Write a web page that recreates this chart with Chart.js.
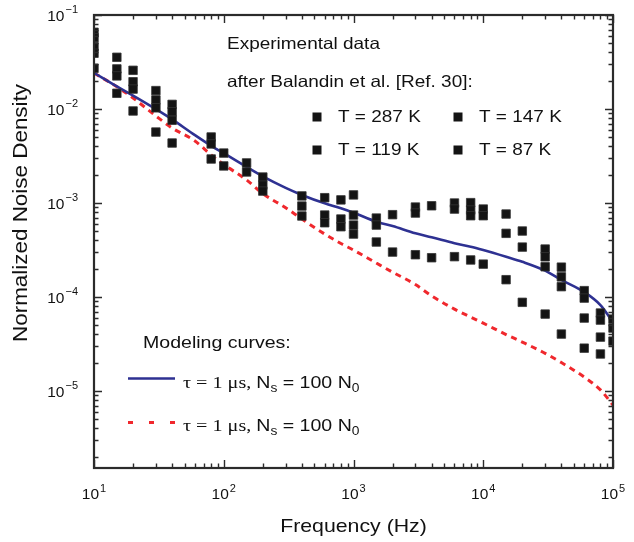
<!DOCTYPE html>
<html>
<head>
<meta charset="utf-8">
<title>Normalized noise density vs frequency</title>
<script src="https://cdn.jsdelivr.net/npm/chart.js@4.4.0/dist/chart.umd.min.js"></script>
<style>
  html, body { margin: 0; padding: 0; background: #fff; }
  #wrap { position: relative; width: 634px; height: 542px; }
</style>
</head>
<body>
<div id="wrap"><canvas id="noiseChart"></canvas></div>
<script>
// measured spectra (all temperatures share the same square marker)
const measFreq = [
    10, 10, 10, 10, 10,
    15, 15, 15, 15,
    20, 20, 20, 20,
    30, 30, 30, 30,
    40, 40, 40, 40,
    80, 80, 80,
    100, 100,
    150, 150,
    200, 200, 200,
    400, 400, 400,
    600, 600, 600,
    800, 800, 800,
    1000, 1000, 1000, 1000,
    1500, 1500, 1500,
    2000, 2000,
    3000, 3000, 3000,
    4000, 4000,
    6000, 6000, 6000,
    8000, 8000, 8000, 8000,
    10000, 10000, 10000,
    15000, 15000, 15000,
    20000, 20000, 20000,
    30000, 30000, 30000, 30000,
    40000, 40000, 40000, 40000,
    60000, 60000, 60000, 60000,
    80000, 80000, 80000, 80000,
    100000, 100000, 100000
];
const measNoise = [
    6.55e-2, 5.74e-2, 4.60e-2, 3.92e-2, 2.71e-2,
    3.55e-2, 2.67e-2, 2.25e-2, 1.47e-2,
    2.58e-2, 1.95e-2, 1.63e-2, 9.53e-3,
    1.57e-2, 1.25e-2, 1.03e-2, 5.69e-3,
    1.12e-2, 9.35e-3, 7.59e-3, 4.35e-3,
    5.04e-3, 4.25e-3, 2.94e-3,
    3.40e-3, 2.48e-3,
    2.67e-3, 2.14e-3,
    1.89e-3, 1.55e-3, 1.34e-3,
    1.19e-3, 9.29e-4, 7.28e-4,
    1.14e-3, 7.45e-4, 6.17e-4,
    1.08e-3, 6.76e-4, 5.60e-4,
    1.22e-3, 7.45e-4, 5.83e-4, 4.68e-4,
    6.92e-4, 5.83e-4, 3.85e-4,
    7.52e-4, 3.01e-4,
    9.06e-4, 7.83e-4, 2.82e-4,
    9.35e-4, 2.62e-4,
    1.00e-3, 8.63e-4, 2.69e-4,
    1.01e-3, 8.43e-4, 7.33e-4, 2.48e-4,
    8.63e-4, 7.33e-4, 2.24e-4,
    7.64e-4, 4.76e-4, 1.53e-4,
    5.04e-4, 3.40e-4, 8.79e-5,
    3.24e-4, 2.68e-4, 2.10e-4, 6.59e-5,
    2.08e-4, 1.64e-4, 1.29e-4, 4.04e-5,
    1.17e-4, 9.75e-5, 5.98e-5, 2.86e-5,
    6.76e-5, 5.69e-5, 3.75e-5, 2.48e-5,
    5.83e-5, 4.68e-5, 3.40e-5
];

// model curves
const modelFreq = [10, 15, 20, 30, 40, 60, 80, 100, 150, 200, 300, 400, 600, 800, 1000,
    1500, 2000, 3000, 4000, 6000, 8000, 10000, 15000, 20000, 30000, 40000, 60000, 80000, 100000];
const modelSolid = [2.43e-2, 1.74e-2, 1.39e-2, 9.97e-3, 7.76e-3, 5.27e-3, 4.06e-3, 3.39e-3, 2.42e-3,
    1.92e-3, 1.45e-3, 1.22e-3, 9.93e-4, 8.79e-4, 7.89e-4, 6.33e-4, 5.69e-4, 4.76e-4, 4.32e-4,
    3.73e-4, 3.43e-4, 3.16e-4, 2.68e-4, 2.37e-4, 1.91e-4, 1.52e-4, 1.13e-4, 8.22e-5, 5.42e-5];
const modelDashed = [2.41e-2, 1.73e-2, 1.31e-2, 8.43e-3, 6.28e-3, 4.57e-3, 3.24e-3, 2.57e-3, 1.76e-3,
    1.26e-3, 8.91e-4, 6.76e-4, 4.68e-4, 3.71e-4, 3.16e-4, 2.30e-4, 1.84e-4, 1.36e-4, 1.03e-4,
    7.44e-5, 6.12e-5, 5.28e-5, 3.99e-5, 3.32e-5, 2.52e-5, 2.01e-5, 1.41e-5, 1.03e-5, 7.10e-6];

const tempLabels = ['T = 287 K', 'T = 147 K', 'T = 119 K', 'T = 87 K'];
const xMajorTicks = [10, 100, 1000, 10000, 100000];
const yMajorTicks = [1e-1, 1e-2, 1e-3, 1e-4, 1e-5];

const INK = '#111111';
const AXIS = '#2b2b2b';
const BLUE = '#2e3192';
const RED = '#f0282d';
const SANS = '"Liberation Sans", Arial, Helvetica, sans-serif';
const SERIF = '"Liberation Serif", "Times New Roman", serif';
const STRETCH = 1.15;

// text with a slightly wide set, like the original figure lettering
function wideText(ctx, txt, x, y, font, align) {
    ctx.save();
    ctx.font = font;
    ctx.translate(x, y);
    ctx.scale(STRETCH, 1);
    ctx.textAlign = align || 'left';
    ctx.textBaseline = 'middle';
    ctx.fillText(txt, 0, 0);
    const w = ctx.measureText(txt).width * STRETCH;
    ctx.restore();
    return w;
}

// "tau = 1 us, N_s = 100 N_0" in mixed serif / sans with subscripts
function modelLabel(ctx, x, y) {
    const parts = [
        { t: '\u03c4 = 1 \u03bcs, ', f: '17.5px ' + SERIF, dy: 0 },
        { t: 'N', f: '17px ' + SANS, dy: 0 },
        { t: 's', f: '12px ' + SANS, dy: 6 },
        { t: ' = 100 N', f: '17px ' + SANS, dy: 0 },
        { t: '0', f: '12px ' + SANS, dy: 6 }
    ];
    let cx = x;
    parts.forEach(p => { cx += wideText(ctx, p.t, cx, y + p.dy, p.f); });
}

function powerLabel(ctx, exp, x, y, side) {
    const expTxt = exp < 0 ? '\u2212' + Math.abs(exp) : String(exp);
    ctx.save();
    ctx.fillStyle = INK;
    ctx.textBaseline = 'middle';
    ctx.textAlign = 'left';
    ctx.font = '15.5px ' + SANS;
    const wb = ctx.measureText('10').width;
    ctx.font = '11px ' + SANS;
    const we = ctx.measureText(expTxt).width;
    let left;
    if (side === 'bottom') {
        left = x - (wb + we + 1) / 2;
        ctx.font = '15.5px ' + SANS;
        ctx.fillText('10', left, y + 1);
        ctx.font = '11px ' + SANS;
        ctx.fillText(expTxt, left + wb + 1, y - 5);
    } else {
        left = x - (wb + we + 1);
        ctx.font = '15.5px ' + SANS;
        ctx.fillText('10', left, y + 2);
        ctx.font = '11px ' + SANS;
        ctx.fillText(expTxt, left + wb + 1, y - 5);
    }
    ctx.restore();
}

const figurePlugin = {
    id: 'figure',
    afterDraw(chart) {
        const ctx = chart.ctx;
        const area = chart.chartArea;
        const xs = chart.scales.x;
        const ys = chart.scales.y;

        // frame
        ctx.save();
        ctx.strokeStyle = AXIS;
        ctx.lineWidth = 2.2;
        ctx.strokeRect(area.left, area.top, area.right - area.left, area.bottom - area.top);

        // inward log ticks on all four sides
        ctx.lineWidth = 1.4;
        ctx.beginPath();
        for (let d = 1; d <= 5; d++) {
            for (let k = 1; k <= 9; k++) {
                const v = k * Math.pow(10, d);
                if (v < xs.min || v > xs.max) continue;
                const px = Math.round(xs.getPixelForValue(v)) + 0.5;
                const len = k === 1 ? 8 : 4.5;
                ctx.moveTo(px, area.bottom); ctx.lineTo(px, area.bottom - len);
                ctx.moveTo(px, area.top); ctx.lineTo(px, area.top + len);
            }
        }
        for (let d = -6; d <= -1; d++) {
            for (let k = 1; k <= 9; k++) {
                const v = k * Math.pow(10, d);
                if (v < ys.min || v > ys.max * 1.0001) continue;
                const py = Math.round(ys.getPixelForValue(v)) + 0.5;
                const len = k === 1 ? 8 : 4.5;
                ctx.moveTo(area.left, py); ctx.lineTo(area.left + len, py);
                ctx.moveTo(area.right, py); ctx.lineTo(area.right - len, py);
            }
        }
        ctx.stroke();
        ctx.restore();

        // tick labels
        xMajorTicks.forEach(v => powerLabel(ctx, Math.round(Math.log10(v)), xs.getPixelForValue(v), 494, 'bottom'));
        yMajorTicks.forEach(v => powerLabel(ctx, Math.round(Math.log10(v)), 78, ys.getPixelForValue(v), 'left'));

        ctx.save();
        ctx.fillStyle = INK;

        // axis titles
        wideText(ctx, 'Frequency (Hz)', (area.left + area.right) / 2, 527, '18.5px ' + SANS, 'center');
        ctx.save();
        ctx.translate(22, 213);
        ctx.rotate(-Math.PI / 2);
        wideText(ctx, 'Normalized Noise Density', 0, 0, '19.5px ' + SANS, 'center');
        ctx.restore();

        // experimental data key
        wideText(ctx, 'Experimental data', 227, 44, '16.5px ' + SANS);
        wideText(ctx, 'after Balandin et al. [Ref. 30]:', 227, 82, '16.5px ' + SANS);
        const keyX = [317, 458];
        const keyY = [117, 150];
        tempLabels.forEach((lab, i) => {
            const cx = keyX[i % 2];
            const cy = keyY[Math.floor(i / 2)];
            ctx.fillStyle = '#141414';
            ctx.fillRect(cx - 4.5, cy - 4.5, 9, 9);
            ctx.fillStyle = INK;
            wideText(ctx, lab, cx + 21, cy, '16.5px ' + SANS);
        });

        // model curve key
        wideText(ctx, 'Modeling curves:', 143, 343, '17px ' + SANS);
        ctx.lineWidth = 2.6;
        ctx.strokeStyle = BLUE;
        ctx.beginPath();
        ctx.moveTo(128, 378.5); ctx.lineTo(175, 378.5);
        ctx.stroke();
        ctx.strokeStyle = RED;
        ctx.lineWidth = 3;
        ctx.setLineDash([5, 16]);
        ctx.beginPath();
        ctx.moveTo(128, 422.5); ctx.lineTo(175, 422.5);
        ctx.stroke();
        ctx.setLineDash([]);
        modelLabel(ctx, 183, 383);
        modelLabel(ctx, 183, 426);
        ctx.restore();
    }
};

const measured = measFreq.map((f, i) => ({ x: f, y: measNoise[i] }));
const solidPts = modelFreq.map((f, i) => ({ x: f, y: modelSolid[i] }));
const dashedPts = modelFreq.map((f, i) => ({ x: f, y: modelDashed[i] }));

new Chart(document.getElementById('noiseChart'), {
    type: 'scatter',
    data: {
        datasets: [
            {
                label: 'Experimental data',
                data: measured,
                pointStyle: 'rect',
                pointRadius: 6,
                backgroundColor: '#141414',
                borderColor: '#333333',
                borderWidth: 0.8,
                order: 0
            },
            {
                label: 'tau = 1 us, Ns = 100 N0 (solid)',
                type: 'line',
                data: solidPts,
                borderColor: BLUE,
                borderWidth: 2.6,
                pointRadius: 0,
                cubicInterpolationMode: 'monotone',
                fill: false,
                order: 1
            },
            {
                label: 'tau = 1 us, Ns = 100 N0 (dashed)',
                type: 'line',
                data: dashedPts,
                borderColor: RED,
                borderWidth: 3,
                borderDash: [6, 5],
                pointRadius: 0,
                cubicInterpolationMode: 'monotone',
                fill: false,
                order: 2
            }
        ]
    },
    options: {
        responsive: true,
        maintainAspectRatio: false,
        animation: false,
        layout: { padding: { left: 94, top: 15, right: 21, bottom: 74 } },
        plugins: {
            legend: { display: false },
            tooltip: { enabled: false }
        },
        scales: {
            x: { type: 'logarithmic', min: 10, max: 100000, display: false },
            y: { type: 'logarithmic', min: 1.52e-6, max: 0.1, display: false }
        }
    },
    plugins: [figurePlugin]
});
</script>
</body>
</html>
